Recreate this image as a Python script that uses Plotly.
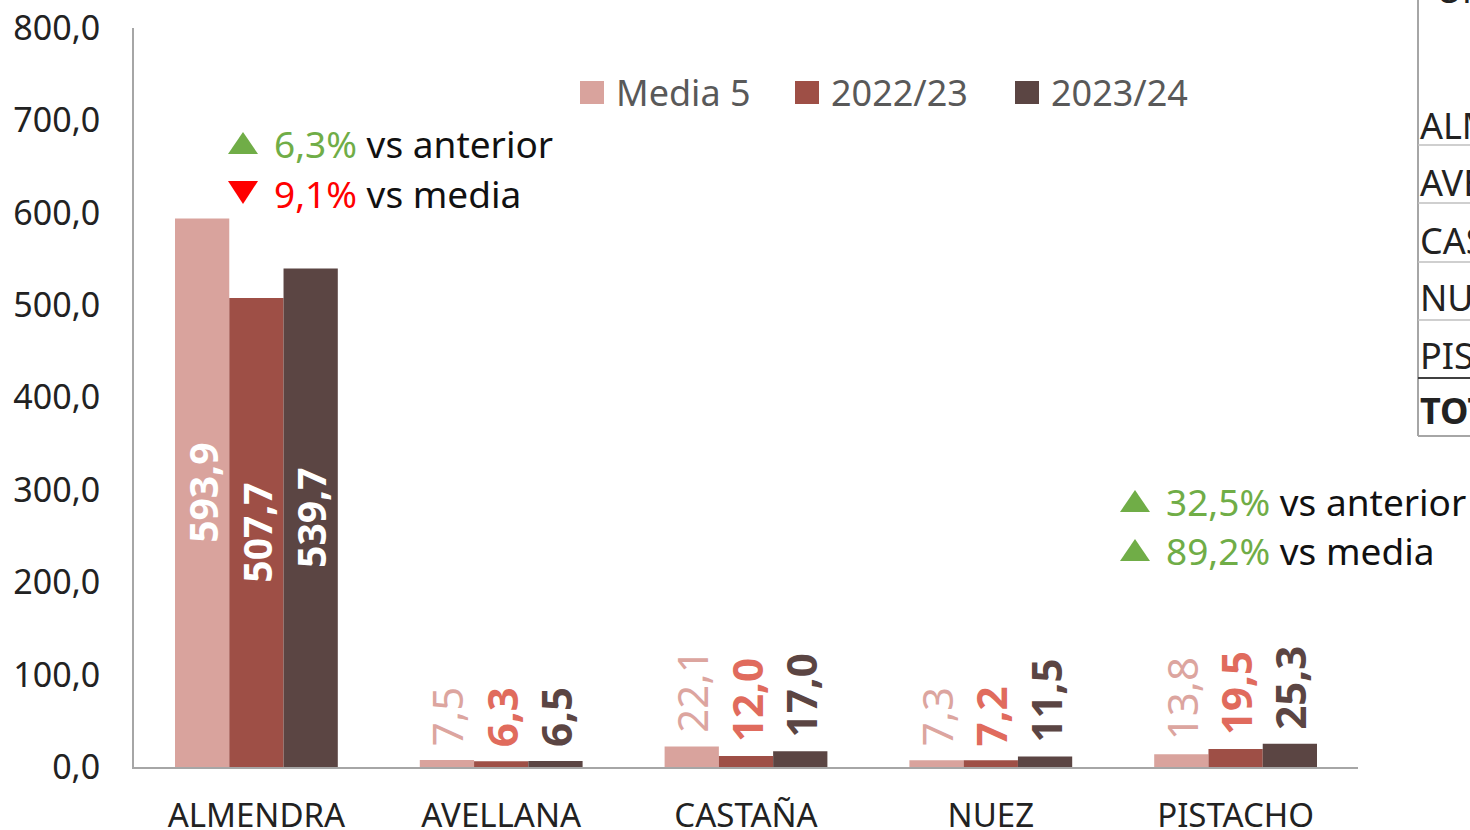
import plotly.graph_objects as go

categories = ["ALMENDRA", "AVELLANA", "CASTAÑA", "NUEZ", "PISTACHO"]
media5 = [593.9, 7.5, 22.1, 7.3, 13.8]
y2022 = [507.7, 6.3, 12.0, 7.2, 19.5]
y2023 = [539.7, 6.5, 17.0, 11.5, 25.3]
series_names = ["Media 5", "2022/23", "2023/24"]
y_ticks = [0, 100, 200, 300, 400, 500, 600, 700, 800]
table_rows = ["ALMENDRA", "AVELLANA", "CASTAÑA", "NUEZ", "PISTACHO", "TOTAL"]

FONT = "Noto Sans"
W, H = 1470, 830
L, R, T, B = 134, 112, 28, 63
PW, PH = W - L - R, H - T - B


def px(x):
    return (x - L) / PW


def py(y):
    return (H - B - y) / PH


bar_colors = ["#D9A39D", "#9E4F46", "#5B4543"]
label_colors = ["#DCA59F", "#E06B5D", "#5B4543"]
label_weights = ["normal", "bold", "bold"]

fig = go.Figure()
for name, vals, col, lcol, wgt in zip(series_names, [media5, y2022, y2023],
                                      bar_colors, label_colors, label_weights):
    positions = ["inside"] + ["outside"] * (len(vals) - 1)
    templates = ["%{y:.1f}"] + ["\u00a0%{y:.1f}"] * (len(vals) - 1)
    fig.add_trace(go.Bar(
        name=name, x=categories, y=vals, showlegend=False,
        marker=dict(color=col, line=dict(width=0)),
        texttemplate=templates, textposition=positions,
        textangle=-90, insidetextanchor="middle",
        insidetextfont=dict(family=FONT, size=39, color="white", weight="bold"),
        outsidetextfont=dict(family=FONT, size=42, color=lcol, weight=wgt),
        constraintext="none", cliponaxis=False,
        hoverinfo="skip",
    ))

annotations = []
shapes = []

# legend (manual, to match the large square keys)
legend_x = [580, 795, 1015]
for name, col, lx in zip(series_names, bar_colors, legend_x):
    shapes.append(dict(type="rect", xref="paper", yref="paper",
                       x0=px(lx), x1=px(lx + 24), y0=py(104), y1=py(81),
                       fillcolor=col, line=dict(width=0)))
    annotations.append(dict(
        xref="paper", yref="paper", x=px(lx + 34), y=py(92), xanchor="left", yanchor="middle",
        showarrow=False, text=name, font=dict(family=FONT, size=36, color="#595959"),
    ))

GREEN = "#70AD47"
RED = "#FF0000"
anns = [
    (228, 143, GREEN, "up", "6,3%", "vs anterior"),
    (228, 193, RED, "down", "9,1%", "vs media"),
    (1120, 501, GREEN, "up", "32,5%", "vs anterior"),
    (1120, 550, GREEN, "up", "89,2%", "vs media"),
]
for x, y, c, d, pct, rest in anns:
    x0, x1, xm = px(x), px(x + 30), px(x + 15)
    if d == "up":
        path = f"M {x0},{py(y + 11)} L {x1},{py(y + 11)} L {xm},{py(y - 11)} Z"
    else:
        path = f"M {x0},{py(y - 12)} L {x1},{py(y - 12)} L {xm},{py(y + 11)} Z"
    shapes.append(dict(type="path", xref="paper", yref="paper", path=path,
                       fillcolor=c, line=dict(width=0)))
    annotations.append(dict(
        xref="paper", yref="paper", x=px(x + 44), y=py(y), xanchor="left", yanchor="middle",
        showarrow=False,
        text=f"<span style='color:{c}'>{pct}</span> {rest}",
        font=dict(family=FONT, size=37, color="#111111"),
    ))

# partially visible table on the right
row_y = [125, 182, 240, 297, 355, 410]
for lab, yy in zip(table_rows, row_y):
    annotations.append(dict(
        xref="paper", yref="paper", x=px(1418), y=py(yy), xanchor="left", yanchor="middle",
        showarrow=False, text=("<b>%s</b>" % lab) if lab == "TOTAL" else lab,
        font=dict(family=FONT, size=36, color="#222222"),
    ))
annotations.append(dict(
    xref="paper", yref="paper", x=px(1434), y=py(16), xanchor="left", yanchor="bottom",
    showarrow=False, text="Uni", font=dict(family=FONT, size=36, color="#222222"),
))

shapes.append(dict(type="line", xref="paper", yref="paper", x0=px(1418), x1=px(1418),
                   y0=py(0), y1=py(436), line=dict(color="#A6A6A6", width=2)))
for yy, col, w in [(145, "#BFBFBF", 1.5), (203, "#BFBFBF", 1.5), (262, "#BFBFBF", 1.5),
                   (320, "#BFBFBF", 1.5), (378, "#404040", 2), (436, "#A6A6A6", 2)]:
    shapes.append(dict(type="line", xref="paper", yref="paper", x0=px(1418), x1=px(1475),
                       y0=py(yy), y1=py(yy), line=dict(color=col, width=w)))

fig.update_layout(
    width=W, height=H,
    margin=dict(l=L, r=R, t=T, b=B, pad=0, autoexpand=False),
    paper_bgcolor="white", plot_bgcolor="white",
    barmode="group", bargap=0.335, bargroupgap=0,
    separators=", ",
    font=dict(family=FONT, size=32, color="#333333"),
    annotations=annotations,
    shapes=shapes,
    showlegend=False,
)
fig.update_xaxes(showline=True, linecolor="#A6A6A6", linewidth=2, showgrid=False,
                 ticks="", tickfont=dict(family=FONT, size=33, color="#222222"),
                 ticklabelstandoff=18, automargin=False)
fig.update_yaxes(range=[0, 800], tickvals=y_ticks, tickformat=".1f",
                 showline=True, linecolor="#A6A6A6", linewidth=2, showgrid=False,
                 zeroline=False, ticks="", ticklabelstandoff=25, automargin=False,
                 tickfont=dict(family=FONT, size=34, color="#222222"))

fig.write_html("out.html", config={"displayModeBar": False},
               post_script="document.body.style.margin='0';")
